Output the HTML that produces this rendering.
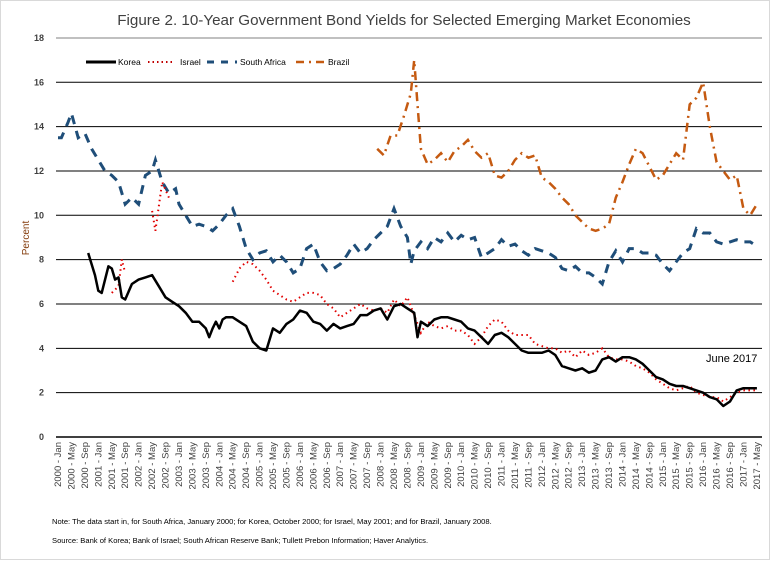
<!DOCTYPE html>
<html><head><meta charset="utf-8"><style>
html,body{margin:0;padding:0;background:#fff}
#w{position:relative;width:771px;height:561px;overflow:hidden;background:#fff}
svg text{font-family:"Liberation Sans",sans-serif}
</style></head><body><div id="w">
<svg id="s" width="771" height="561" xmlns="http://www.w3.org/2000/svg">
<rect x="0.5" y="0.5" width="769" height="559" fill="#fff" stroke="#d9d9d9"/>
<text x="404" y="25" font-size="15.2" fill="#404040" text-anchor="middle">Figure 2.  10-Year Government Bond Yields for Selected Emerging Market Economies</text>
<g id="grid"></g>
<text transform="translate(29,238) rotate(-90)" font-size="10" fill="#843c0c" text-anchor="middle">Percent</text>
<text x="706" y="362" font-size="11" fill="#000">June 2017</text>
<g id="lab"></g>
<g id="ser"></g>
<g font-size="8.5" fill="#000">
<line x1="86" y1="62" x2="116" y2="62" stroke="#000" stroke-width="3"/><text x="118" y="65">Korea</text>
<line x1="148" y1="62" x2="175" y2="62" stroke="#c00000" stroke-width="2" stroke-dasharray="1.5,3"/><text x="180" y="65">Israel</text>
<line x1="207" y1="62" x2="237" y2="62" stroke="#1f4e79" stroke-width="3" stroke-dasharray="7,7"/><text x="240" y="65">South Africa</text>
<line x1="296" y1="62" x2="326" y2="62" stroke="#c55a11" stroke-width="2.5" stroke-dasharray="8,5,2,5"/><text x="328" y="65">Brazil</text>
</g>
<text x="52" y="524" font-size="7.6" fill="#000">Note:  The data start in, for South Africa, January 2000; for Korea, October 2000; for Israel, May 2001; and for Brazil, January 2008.</text>
<text x="52" y="543" font-size="7.6" fill="#000">Source:  Bank of Korea; Bank of Israel; South African Reserve Bank; Tullett Prebon Information; Haver Analytics.</text>
</svg></div>
<script>
var NS="http://www.w3.org/2000/svg";
function el(t,a,p,txt){var e=document.createElementNS(NS,t);for(var k in a)e.setAttribute(k,a[k]);if(txt!==undefined)e.textContent=txt;p.appendChild(e);return e;}
function X(m){return 58+m*3.36;} function Y(v){return 437-v*22.17;}
var g=document.getElementById('grid');
for(var v=0;v<=18;v+=2){el('line',{x1:56,x2:762,y1:Y(v),y2:Y(v),stroke:v==18?'#808080':'#000','stroke-width':v==0?1.5:1},g);
el('text',{x:44,y:Y(v)+3,'font-size':9,'font-weight':'bold',fill:'#404040','text-anchor':'end'},g,v);}
var mo=['Jan','May','Sep'],lb=document.getElementById('lab');
for(var i=0;i<53;i++){var m=i*4;if(m>208)break;var yr=2000+Math.floor(m/12);var s=yr+' - '+mo[(m%12)/4];
el('text',{transform:'translate('+(X(m)+3)+',442) rotate(-90)','font-size':9.5,fill:'#404040','text-anchor':'end'},lb,s);}
function P(d){var r=[];for(var i=0;i<d.length;i+=2)r.push(X(d[i]).toFixed(1)+','+Y(d[i+1]).toFixed(1));return r.join(' ');}
var sa=[0,13.5,1,13.5,3,14.2,4,14.6,6,13.5,8,13.7,10,13,12,12.5,14,12,16,11.8,18,11.5,20,10.5,22,10.8,24,10.5,26,11.8,28,12,29,12.5,31,11.5,33,11,35,11.2,36,10.5,38,10,40,9.5,42,9.6,44,9.5,46,9.3,48,9.6,50,10,52,10.3,54,9.5,56,8.5,58,8,60,8.3,62,8.4,64,7.9,66,8.2,68,7.9,70,7.4,72,7.6,74,8.5,76,8.7,78,7.9,80,7.5,82,7.6,84,7.8,86,8.2,88,8.7,90,8.3,92,8.5,94,8.9,96,9.2,98,9.5,100,10.3,102,9.5,104,9,105,7.8,106,8.4,108,8.8,110,8.5,112,9,114,8.8,116,9.2,118,8.8,120,9.1,122,8.9,124,9,126,8.1,128,8.3,130,8.5,132,8.9,134,8.6,136,8.7,138,8.4,140,8.2,142,8.5,144,8.4,146,8.3,148,8.1,150,7.6,152,7.5,154,7.7,156,7.4,158,7.4,160,7.2,162,6.9,164,7.9,166,8.4,168,7.9,170,8.5,172,8.5,174,8.3,176,8.3,178,8.2,180,7.8,182,7.5,184,7.9,186,8.3,188,8.5,190,9.4,192,9.2,194,9.2,196,8.8,198,8.7,200,8.8,202,8.9,204,8.8,206,8.8,208,8.6];
var br=[95,13,97,12.7,99,13.6,101,13.6,103,14.5,105,15.5,106,17,107,15,108,13,110,12.3,112,12.5,114,12.8,116,12.4,118,12.9,120,13.1,122,13.4,124,12.9,126,12.6,128,12.8,130,11.8,132,11.7,134,12,136,12.5,138,12.8,140,12.6,142,12.7,144,11.7,146,11.5,148,11.2,150,10.8,152,10.5,154,10,156,9.7,158,9.4,160,9.3,162,9.4,164,9.6,166,10.8,168,11.5,170,12.3,172,13,174,12.8,176,12.2,178,11.6,180,11.8,182,12.3,184,12.8,186,12.5,188,15,190,15.3,192,16,194,14,196,12.4,198,12,200,11.6,202,11.8,204,10.3,206,10,208,10.5];
var ko=[9,8.3,10,7.8,11,7.3,12,6.6,13,6.5,15,7.7,16,7.6,17,7.1,18,7.2,19,6.3,20,6.2,22,6.9,24,7.1,26,7.2,28,7.3,30,6.8,32,6.3,34,6.1,36,5.9,38,5.6,40,5.2,42,5.2,44,4.9,45,4.5,46,4.9,47,5.2,48,4.9,49,5.3,50,5.4,52,5.4,54,5.2,56,5,58,4.3,60,4,62,3.9,64,4.9,66,4.7,68,5.1,70,5.3,72,5.7,74,5.6,76,5.2,78,5.1,80,4.8,82,5.1,84,4.9,86,5,88,5.1,90,5.5,92,5.5,94,5.7,96,5.8,98,5.3,100,5.9,102,6,104,5.8,106,5.6,107,4.5,108,5.2,110,5,112,5.3,114,5.4,116,5.4,118,5.3,120,5.2,122,4.9,124,4.8,126,4.5,128,4.2,130,4.6,132,4.7,134,4.5,136,4.2,138,3.9,140,3.8,142,3.8,144,3.8,146,3.9,148,3.7,150,3.2,152,3.1,154,3,156,3.1,158,2.9,160,3,162,3.5,164,3.6,166,3.4,168,3.6,170,3.6,172,3.5,174,3.3,176,3,178,2.7,180,2.6,182,2.4,184,2.3,186,2.3,188,2.2,190,2.1,192,2,194,1.8,196,1.7,198,1.4,200,1.6,202,2.1,204,2.2,206,2.2,208,2.2];
var is1=[16,6.5,18,6.8,19,8,20,7.4],is2=[28,10.2,29,9.3,31,11.5,33,10.8];
var is3=[52,7,54,7.6,56,7.9,58,7.8,60,7.5,62,7.1,64,6.6,66,6.4,68,6.2,70,6.1,72,6.3,74,6.5,76,6.5,78,6.4,80,6,82,5.8,84,5.4,86,5.6,88,5.8,90,6,92,5.8,94,5.7,96,5.8,98,5.6,100,6.2,102,5.9,104,6.3,106,5.5,108,4.7,110,5.2,112,5,114,4.9,116,5,118,4.8,120,4.8,122,4.6,124,4.2,126,4.5,128,5,130,5.3,132,5.2,134,4.8,136,4.6,138,4.6,140,4.6,142,4.2,144,4.1,146,4,148,4,150,3.8,152,3.9,154,3.6,156,3.9,158,3.7,160,3.8,162,4,164,3.6,166,3.5,168,3.5,170,3.4,172,3.2,174,3.1,176,2.9,178,2.6,180,2.4,182,2.2,184,2.1,186,2.2,188,2.3,190,2,192,1.9,194,1.8,196,1.8,198,1.6,200,1.8,202,2,204,2.1,206,2.1,208,2.1];
var sg=document.getElementById('ser');
el('polyline',{points:P(sa),fill:'none',stroke:'#1f4e79','stroke-width':3,'stroke-dasharray':'9,7'},sg);
el('polyline',{points:P(br),fill:'none',stroke:'#c55a11','stroke-width':2.5,'stroke-dasharray':'9,5,2,5'},sg);
[is1,is2,is3].forEach(function(d){el('polyline',{points:P(d),fill:'none',stroke:'#e00000','stroke-width':2,'stroke-dasharray':'1.5,3.5'},sg);});
el('polyline',{points:P(ko),fill:'none',stroke:'#000','stroke-width':2.5,'stroke-linejoin':'round'},sg);
</script></body></html>
